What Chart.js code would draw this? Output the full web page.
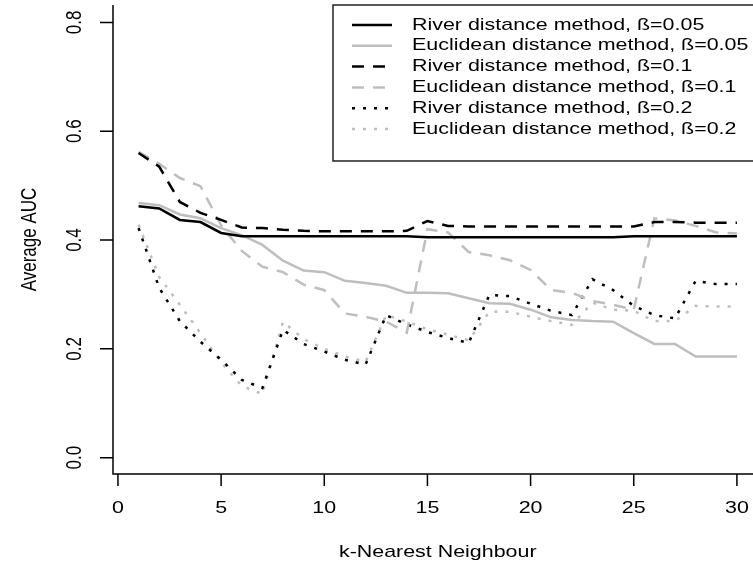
<!DOCTYPE html>
<html>
<head>
<meta charset="utf-8">
<title>Average AUC vs k-Nearest Neighbour</title>
<script src="https://cdn.jsdelivr.net/npm/chart.js@4.4.1/dist/chart.umd.min.js"></script>
<style>
    html, body { margin: 0; padding: 0; background: #ffffff; }
    #wrap { width: 753px; height: 568px; }
</style>
</head>
<body>
<div id="wrap"><canvas id="auc" width="753" height="568"></canvas></div>
<script>
// k values on the x axis
const kValues = [1, 2, 3, 4, 5, 6, 7, 8, 9, 10, 11, 12, 13, 14, 15,
                 16, 17, 18, 19, 20, 21, 22, 23, 24, 25, 26, 27, 28, 29, 30];

// Average AUC
const riverB005 = [0.462, 0.458, 0.437, 0.433, 0.413, 0.407, 0.407, 0.407, 0.407, 0.407,
                   0.407, 0.407, 0.407, 0.407, 0.405, 0.405, 0.405, 0.405, 0.405, 0.405,
                   0.405, 0.405, 0.405, 0.405, 0.407, 0.407, 0.407, 0.407, 0.407, 0.407];
const euclidB005 = [0.468, 0.464, 0.447, 0.440, 0.422, 0.409, 0.391, 0.362, 0.344, 0.341,
                    0.325, 0.321, 0.316, 0.303, 0.303, 0.302, 0.293, 0.284, 0.283, 0.272,
                    0.258, 0.253, 0.251, 0.250, 0.229, 0.209, 0.209, 0.186, 0.186, 0.186];
const riverB01 = [0.560, 0.535, 0.470, 0.450, 0.437, 0.423, 0.422, 0.419, 0.417, 0.416,
                  0.416, 0.416, 0.416, 0.417, 0.435, 0.426, 0.425, 0.425, 0.425, 0.425,
                  0.425, 0.425, 0.425, 0.425, 0.425, 0.433, 0.433, 0.432, 0.432, 0.432];
const euclidB01 = [0.562, 0.540, 0.514, 0.499, 0.427, 0.380, 0.351, 0.341, 0.318, 0.308,
                   0.265, 0.259, 0.250, 0.230, 0.420, 0.414, 0.378, 0.372, 0.363, 0.345,
                   0.308, 0.303, 0.288, 0.281, 0.272, 0.440, 0.436, 0.426, 0.414, 0.412];
const riverB02 = [0.422, 0.312, 0.251, 0.213, 0.180, 0.143, 0.128, 0.235, 0.209, 0.195,
                  0.180, 0.171, 0.262, 0.245, 0.231, 0.220, 0.211, 0.299, 0.297, 0.283,
                  0.270, 0.262, 0.328, 0.308, 0.279, 0.262, 0.256, 0.325, 0.319, 0.319];
const euclidB02 = [0.428, 0.332, 0.281, 0.229, 0.175, 0.132, 0.117, 0.250, 0.218, 0.200,
                   0.186, 0.176, 0.262, 0.250, 0.236, 0.226, 0.216, 0.268, 0.268, 0.259,
                   0.251, 0.244, 0.285, 0.272, 0.270, 0.251, 0.251, 0.279, 0.278, 0.278];

const seriesLabels = [
    'River distance method, \u00DF=0.05',
    'Euclidean distance method, \u00DF=0.05',
    'River distance method, \u00DF=0.1',
    'Euclidean distance method, \u00DF=0.1',
    'River distance method, \u00DF=0.2',
    'Euclidean distance method, \u00DF=0.2'
];

const xTicks = [0, 5, 10, 15, 20, 25, 30];
const yTicks = [0.0, 0.2, 0.4, 0.6, 0.8];

const BLACK = '#000000';
const GREY = '#bebebe';
const SX = 1.26; // the reference picture is stretched sideways, text too
const FONT = '17px "Liberation Sans", Arial, sans-serif';

function toPoints(values) {
    return kValues.map((k, i) => ({ x: k, y: values[i] }));
}

function stretchedText(ctx, text, x, y, align, rotated) {
    ctx.save();
    ctx.translate(x, y);
    ctx.scale(SX, 1);
    if (rotated) ctx.rotate(-Math.PI / 2);
    ctx.textAlign = align;
    ctx.textBaseline = 'middle';
    ctx.fillText(text, 0, 0);
    ctx.restore();
}

// R style axes: L shaped box, outward ticks, rotated y labels
const rAxes = {
    id: 'rAxes',
    afterDraw(chart) {
        const { ctx, chartArea: a, scales: { x, y } } = chart;
        ctx.save();
        ctx.strokeStyle = BLACK;
        ctx.lineWidth = 1.5;
        ctx.setLineDash([]);
        ctx.beginPath();
        ctx.moveTo(a.left, a.top);
        ctx.lineTo(a.left, a.bottom);
        ctx.lineTo(a.right, a.bottom);
        xTicks.forEach(v => {
            const px = x.getPixelForValue(v);
            ctx.moveTo(px, a.bottom);
            ctx.lineTo(px, a.bottom + 12);
        });
        yTicks.forEach(v => {
            const py = y.getPixelForValue(v);
            ctx.moveTo(a.left, py);
            ctx.lineTo(a.left - 13, py);
        });
        ctx.stroke();

        ctx.fillStyle = BLACK;
        ctx.font = FONT;
        xTicks.forEach(v => stretchedText(ctx, String(v), x.getPixelForValue(v), 508, 'center', false));
        yTicks.forEach(v => stretchedText(ctx, v.toFixed(1), 75, y.getPixelForValue(v), 'center', true));
        stretchedText(ctx, 'k-Nearest Neighbour', x.getPixelForValue(15.5), 552, 'center', false);
        stretchedText(ctx, 'Average AUC', 30, (a.top + a.bottom) / 2, 'center', true);
        ctx.restore();
    }
};

// legend box in the top right corner of the plot
const rLegend = {
    id: 'rLegend',
    afterDraw(chart) {
        const { ctx, chartArea: a } = chart;
        const left = 333, top = a.top, width = 430, height = 156, rowH = 20.8;
        ctx.save();
        ctx.fillStyle = '#ffffff';
        ctx.fillRect(left, top, width, height);
        ctx.strokeStyle = '#222222';
        ctx.lineWidth = 1.5;
        ctx.setLineDash([]);
        ctx.strokeRect(left, top, width, height);

        ctx.font = FONT;
        chart.data.datasets.forEach((ds, i) => {
            const cy = top + 20 + i * rowH;
            ctx.strokeStyle = ds.borderColor;
            ctx.lineWidth = ds.borderWidth;
            ctx.setLineDash(ds.borderDash || []);
            ctx.beginPath();
            ctx.moveTo(352, cy);
            ctx.lineTo(392, cy);
            ctx.stroke();
            ctx.fillStyle = BLACK;
            stretchedText(ctx, ds.label, 412, cy, 'left', false);
        });
        ctx.restore();
    }
};

const dashed = [12, 9];
const dotted = [3, 8];

new Chart(document.getElementById('auc'), {
    type: 'line',
    data: {
        datasets: [
            { label: seriesLabels[0], data: toPoints(riverB005), borderColor: BLACK, borderWidth: 2.5, borderDash: [] },
            { label: seriesLabels[1], data: toPoints(euclidB005), borderColor: GREY, borderWidth: 2.5, borderDash: [] },
            { label: seriesLabels[2], data: toPoints(riverB01), borderColor: BLACK, borderWidth: 2.5, borderDash: dashed },
            { label: seriesLabels[3], data: toPoints(euclidB01), borderColor: GREY, borderWidth: 2.5, borderDash: dashed },
            { label: seriesLabels[4], data: toPoints(riverB02), borderColor: BLACK, borderWidth: 2.5, borderDash: dotted },
            { label: seriesLabels[5], data: toPoints(euclidB02), borderColor: GREY, borderWidth: 2.5, borderDash: dotted }
        ]
    },
    options: {
        responsive: false,
        animation: false,
        layout: { padding: { top: 5, left: 0, right: 0, bottom: 0 } },
        elements: {
            point: { radius: 0 },
            line: { tension: 0, fill: false }
        },
        plugins: {
            legend: { display: false },
            tooltip: { enabled: false }
        },
        scales: {
            x: {
                type: 'linear',
                min: -0.24,
                max: 30.78,
                grid: { display: false },
                border: { display: false },
                ticks: { display: false },
                afterFit: (scale) => { scale.height = 94; }
            },
            y: {
                type: 'linear',
                min: -0.03,
                max: 0.832,
                grid: { display: false },
                border: { display: false },
                ticks: { display: false },
                afterFit: (scale) => { scale.width = 113; }
            }
        }
    },
    plugins: [rAxes, rLegend]
});
</script>
</body>
</html>
